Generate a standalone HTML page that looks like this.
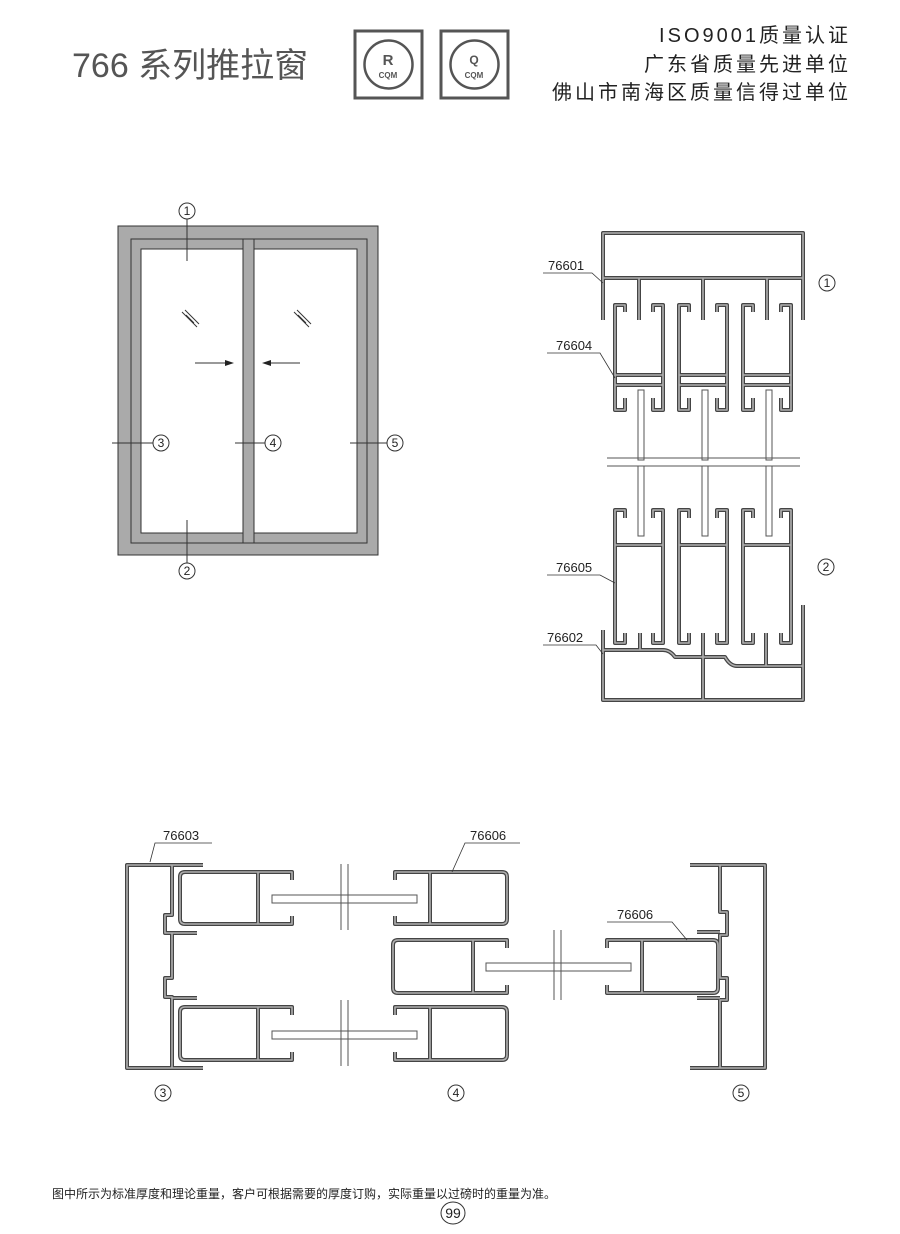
<!DOCTYPE html>
<html><head><meta charset="utf-8"><style>
html,body{margin:0;padding:0;background:#fff}
body{width:900px;height:1234px;position:relative;overflow:hidden;font-family:"Liberation Sans","Noto Sans CJK SC",sans-serif}
.t{position:absolute;color:#333;white-space:nowrap}
</style></head><body>
<svg width="900" height="1234" viewBox="0 0 900 1234" style="position:absolute;left:0;top:0">
<defs>
<g id="p" fill="none" stroke-linejoin="round">
 <path d="M603,320 V233 H803 V320 M603,278 H803 M639,278 V320 M703,278 V320 M767,278 V320"/>
 <path d="M625,312 V305 H615 V410 H625 V398 M653,312 V305 H663 V410 H653 V398 M615,375 H663 M615,385 H663"/>
 <path d="M689,312 V305 H679 V410 H689 V398 M717,312 V305 H727 V410 H717 V398 M679,375 H727 M679,385 H727"/>
 <path d="M753,312 V305 H743 V410 H753 V398 M781,312 V305 H791 V410 H781 V398 M743,375 H791 M743,385 H791"/>
 <path d="M625,518 V510 H615 V643 H625 V633 M653,518 V510 H663 V643 H653 V633 M615,545 H663"/>
 <path d="M689,518 V510 H679 V643 H689 V633 M717,518 V510 H727 V643 H717 V633 M679,545 H727"/>
 <path d="M753,518 V510 H743 V643 H753 V633 M781,518 V510 H791 V643 H781 V633 M743,545 H791"/>
 <path d="M603,630 V700 H803 V605 M603,650 H663 Q670,650 675,657 H725 Q730,666 737,666 H803 M703,633 V700 M640,650 V633 M766,666 V633"/>
 <path d="M203,865 H127 V1068 H203 M172,865 V915 H165 V933 H172 V978 H165 V997 H172 V1068 M172,933 H197 M172,998 H197"/>
 <path d="M690,865 H765 V1068 H690 M720,865 V912 H727 V935 H720 V978 H727 V1000 H720 V1068 M697,932 H720 M697,998 H720"/>
 <path d="M292,880 V872 H185 Q180,872 180,877 V919 Q180,924 185,924 H292 V916 M258,872 V924"/>
 <path d="M292,1015 V1007 H185 Q180,1007 180,1012 V1055 Q180,1060 185,1060 H292 V1052 M258,1007 V1060"/>
 <path d="M395,880 V872 H502 Q507,872 507,877 V919 Q507,924 502,924 H395 V916 M430,872 V924"/>
 <path d="M395,1015 V1007 H502 Q507,1007 507,1012 V1055 Q507,1060 502,1060 H395 V1052 M430,1007 V1060"/>
 <path d="M507,948 V940 H398 Q393,940 393,945 V988 Q393,993 398,993 H507 V985 M473,940 V993"/>
 <path d="M607,948 V940 H713 Q718,940 718,945 V988 Q718,993 713,993 H607 V985 M642,940 V993"/>
</g>
</defs>
<use href="#p" stroke="#444" stroke-width="4"/>
<use href="#p" stroke="#b0b0b0" stroke-width="1.6"/>

<g fill="#fff" stroke="#555" stroke-width="1">
 <rect x="638" y="390" width="6" height="70"/><rect x="702" y="390" width="6" height="70"/><rect x="766" y="390" width="6" height="70"/>
 <rect x="638" y="466" width="6" height="70"/><rect x="702" y="466" width="6" height="70"/><rect x="766" y="466" width="6" height="70"/>
 <rect x="272" y="895" width="145" height="8"/><rect x="272" y="1031" width="145" height="8"/><rect x="486" y="963" width="145" height="8"/>
</g>
<g stroke="#555" stroke-width="1">
 <line x1="607" y1="458" x2="800" y2="458"/><line x1="607" y1="466" x2="800" y2="466"/>
 <line x1="341" y1="864" x2="341" y2="930"/><line x1="348" y1="864" x2="348" y2="930"/>
 <line x1="341" y1="1000" x2="341" y2="1066"/><line x1="348" y1="1000" x2="348" y2="1066"/>
 <line x1="554" y1="930" x2="554" y2="1000"/><line x1="561" y1="930" x2="561" y2="1000"/>
</g>

<rect x="118" y="226" width="260" height="329" fill="#aaa" stroke="#333" stroke-width="1"/>
<rect x="131" y="239" width="236" height="304" fill="#aaa" stroke="#333" stroke-width="1"/>
<rect x="141" y="249" width="102" height="284" fill="#fff" stroke="#333" stroke-width="1"/>
<rect x="254" y="249" width="103" height="284" fill="#fff" stroke="#333" stroke-width="1"/>
<g stroke="#333" stroke-width="1" fill="none">
 <line x1="131" y1="239" x2="131" y2="543"/><line x1="243" y1="239" x2="243" y2="543"/><line x1="254" y1="239" x2="254" y2="543"/>
 <line x1="187" y1="219" x2="187" y2="261"/><line x1="187" y1="520" x2="187" y2="563"/>
 <line x1="112" y1="443" x2="153" y2="443"/><line x1="235" y1="443" x2="265" y2="443"/><line x1="350" y1="443" x2="387" y2="443"/>
 <line x1="195" y1="363" x2="228" y2="363"/><line x1="268" y1="363" x2="300" y2="363"/>
 <line x1="182" y1="312" x2="197" y2="327"/><line x1="185" y1="310" x2="199" y2="324"/><line x1="186" y1="315" x2="194" y2="323"/>
 <line x1="294" y1="312" x2="309" y2="327"/><line x1="297" y1="310" x2="311" y2="324"/><line x1="298" y1="315" x2="306" y2="323"/>
</g>
<path d="M234,363 L225,360 L225,366 Z" fill="#222"/><path d="M262,363 L271,360 L271,366 Z" fill="#222"/>

<g stroke="#333" stroke-width="0.8" fill="none">
 <path d="M543,273 H592 L603,283"/><path d="M547,353 H600 L615,378"/><path d="M547,575 H600 L615,583"/><path d="M543,645 H596 L603,654"/>
 <path d="M212,843 H155 L150,862"/><path d="M520,843 H465 L452,872"/><path d="M607,922 H672 L687,940"/>
</g>
<g fill="#fff" stroke="#333" stroke-width="1">
 <circle cx="187" cy="211" r="8"/><circle cx="187" cy="571" r="8"/><circle cx="161" cy="443" r="8"/><circle cx="273" cy="443" r="8"/><circle cx="395" cy="443" r="8"/>
 <circle cx="827" cy="283" r="8"/><circle cx="826" cy="567" r="8"/>
 <circle cx="163" cy="1093" r="8"/><circle cx="456" cy="1093" r="8"/><circle cx="741" cy="1093" r="8"/>
 <ellipse cx="453" cy="1213" rx="12" ry="11"/>
</g>
<g font-family="Liberation Sans, sans-serif" font-size="12" fill="#222" text-anchor="middle">
 <text x="187" y="215">1</text><text x="187" y="575">2</text><text x="161" y="447">3</text><text x="273" y="447">4</text><text x="395" y="447">5</text>
 <text x="827" y="287">1</text><text x="826" y="571">2</text>
 <text x="163" y="1097">3</text><text x="456" y="1097">4</text><text x="741" y="1097">5</text>
 <text x="453" y="1218" font-size="14">99</text>
</g>
<g font-family="Liberation Sans, sans-serif" font-size="13" fill="#222">
 <text x="548" y="270">76601</text><text x="556" y="350">76604</text><text x="556" y="572">76605</text><text x="547" y="642">76602</text>
 <text x="163" y="840">76603</text><text x="470" y="840">76606</text><text x="617" y="919">76606</text>
</g>

<g fill="none" stroke="#555">
 <rect x="355" y="31" width="67" height="67" stroke-width="3"/><circle cx="388.5" cy="64.5" r="24" stroke-width="2.5"/>
 <rect x="441" y="31" width="67" height="67" stroke-width="3"/><circle cx="474.5" cy="64.5" r="24" stroke-width="2.5"/>
</g>
<g font-family="Liberation Sans, sans-serif" font-weight="bold" fill="#555" text-anchor="middle">
 <text x="388" y="65" font-size="15">R</text><text x="388" y="78" font-size="8">CQM</text>
 <text x="474" y="64" font-size="12">Q</text><text x="474" y="78" font-size="8">CQM</text>
</g>
</svg>
<div class="t" style="left:72px;top:46px;font-size:34px;color:#555;line-height:40px">766 系列推拉窗</div>
<div class="t" style="right:49px;top:22px;font-size:20px;line-height:28.5px;text-align:right;color:#222;letter-spacing:3px">ISO9001质量认证<br>广东省质量先进单位<br>佛山市南海区质量信得过单位</div>
<div class="t" style="left:52px;top:1185px;font-size:12px;color:#222">图中所示为标准厚度和理论重量，客户可根据需要的厚度订购，实际重量以过磅时的重量为准。</div>
</body></html>
